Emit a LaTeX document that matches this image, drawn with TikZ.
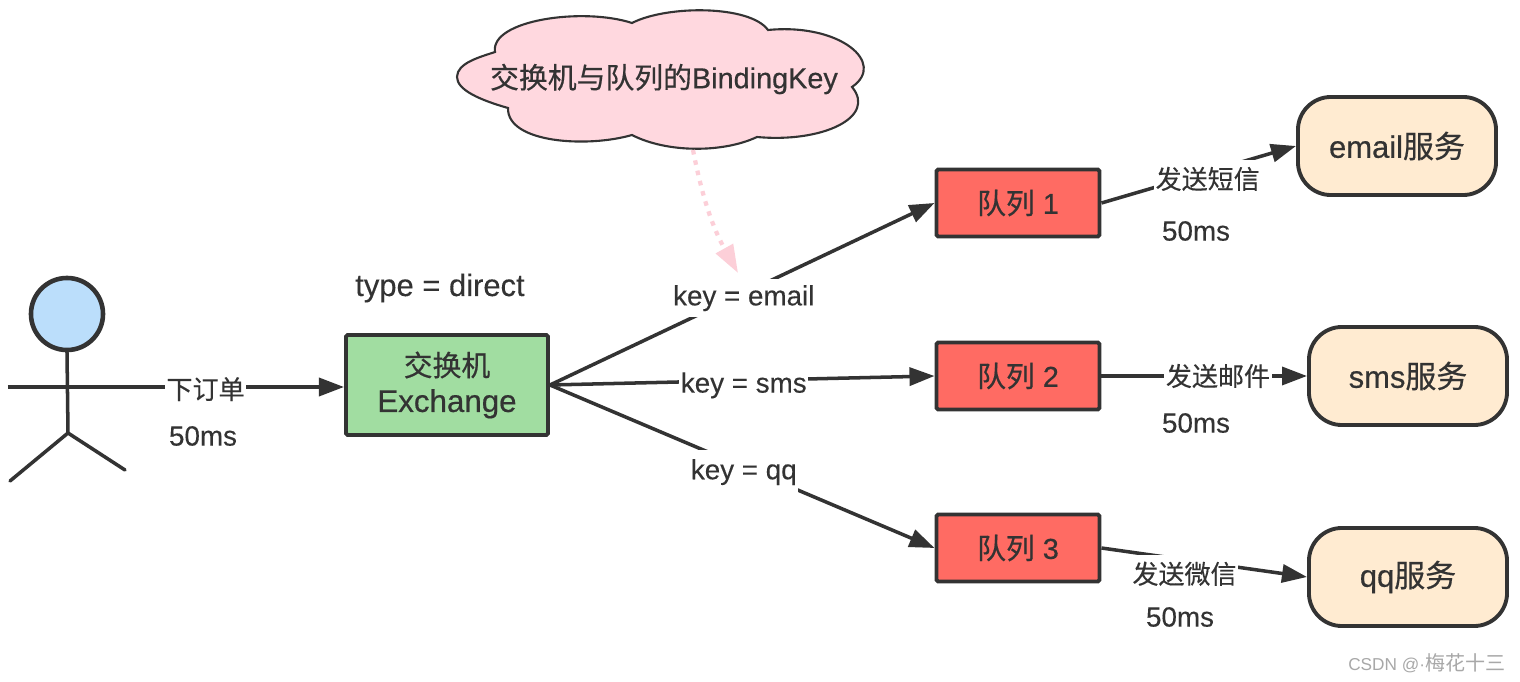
\documentclass[tikz,border=0pt]{standalone}
\usepackage{fontspec}
\setmainfont[FakeBold=0.25]{Liberation Sans}
\newfontfamily\cjk[FakeBold=0.25]{Noto Sans CJK SC}
\newfontfamily\thick[FakeBold=0.5]{Liberation Sans}
\newfontfamily\cjkthick[FakeBold=0.5]{Noto Sans CJK SC}
\newfontfamily\thin{Liberation Sans}
\newfontfamily\cjkthin{Noto Sans CJK SC}
\usepackage{xcolor}
\usetikzlibrary{arrows.meta,calc,positioning}
\definecolor{ink}{HTML}{333333}
\definecolor{headfill}{HTML}{BBDEFB}
\definecolor{exchangefill}{HTML}{A1DDA1}
\definecolor{queuefill}{HTML}{FF6B63}
\definecolor{servicefill}{HTML}{FFEBD1}
\definecolor{cloudfill}{HTML}{FFD8DF}
\definecolor{notearrow}{HTML}{FCCFD8}
\definecolor{markgrey}{HTML}{A8A8A8}
\tikzset{
  stick/.style={line width=1pt, draw=ink, line cap=round},
  edge/.style={line width=1pt, draw=ink, -{Triangle[length=2.5mm,width=1.8mm]}},
  head/.style={circle, draw=ink, line width=1.3pt, fill=headfill, minimum size=0.72cm, inner sep=0pt},
  exchange/.style={rounded corners=0.5pt, draw=ink, line width=1.1pt, fill=exchangefill,
    minimum width=2.02cm, minimum height=1cm, align=center, text=ink,
    font=\thick\fontsize{8.9}{10.2}\selectfont},
  queue/.style={rounded corners=0.5pt, draw=ink, line width=1.1pt, fill=queuefill,
    minimum width=1.63cm, minimum height=0.67cm, text=ink, font=\thick\fontsize{8.2}{10}\selectfont},
  service/.style={rounded corners=0.33cm, draw=ink, line width=1.1pt, fill=servicefill,
    minimum width=1.98cm, minimum height=0.98cm, text=ink, font=\thick\fontsize{8.8}{10}\selectfont},
  flow/.style={fill=white, text=ink, inner xsep=0.5pt, inner ysep=0pt, minimum height=0.38cm,
    font=\fontsize{7.9}{9}\selectfont},
  flowcjk/.style={flow, font=\cjk\fontsize{7.4}{9}\selectfont},
  note/.style={text=ink, inner sep=0pt, font=\fontsize{7.9}{9}\selectfont}
}

\begin{document}
\begin{tikzpicture}[x=0.01cm,y=-0.01cm]
\path[use as bounding box] (0,0) rectangle (1520,682);
\fill[white] (0,0) rectangle (1520,682);

\node[head] (person) at (67,314) {};
\coordinate (hip) at (68,433);
\coordinate (hand) at (8,387);
\coordinate (footL) at (10,481);
\coordinate (footR) at (125,470);
\draw[stick] (person.south) -- (hip);
\draw[stick] (footL) -- (hip) -- (footR);

\node[exchange] (exchange) at (447,385) {{\cjkthick\fontsize{8.2}{10.2}\selectfont 交换机}\\Exchange};
\node[queue] (queue1) at (1018,203) {{\cjkthick 队列} 1};
\node[queue] (queue2) at (1018,376) {{\cjkthick 队列} 2};
\node[queue] (queue3) at (1018,548) {{\cjkthick 队列} 3};
\node[service] (email) at (1397,146) {email{\cjkthick 服务}};
\node[service] (sms) at (1408,376) {sms{\cjkthick 服务}};
\node[service] (qq) at (1408,577) {qq{\cjkthick 服务}};

\draw[edge] (hand) -- node[flowcjk, pos=.588, yshift=-0.6pt] (order) {下订单} (hand -| exchange.west);
\draw[edge] (exchange.east) -- node[flow, pos=.504, yshift=-1.4pt] (keyemail) {key = email} (queue1.west);
\draw[edge] (exchange.east) -- node[flow, pos=.504, yshift=-1.4pt] (keysms) {key = sms} (queue2.west);
\draw[edge] (exchange.east) -- node[flow, pos=.504, yshift=-1.4pt, minimum height=0.44cm] (keyqq) {key = qq} (queue3.west);
\draw[edge] (queue1.east) -- node[flowcjk, pos=.546, yshift=-2pt] (sendmail) {发送短信} (email.west);
\draw[edge] (queue2.east) -- node[flowcjk, pos=.567] (sendsms) {发送邮件} (sms.west);
\draw[edge] (queue3.east) -- node[flowcjk, pos=.404, yshift=-4pt] (sendqq) {发送微信} (qq.west);

\node[note] (costorder) at (203,436) {50ms};
\node[note] (costmail) at (1196,231) {50ms};
\node[note] (costsms) at (1196,423) {50ms};
\node[note] (costqq) at (1180,617) {50ms};
\node[note, font=\fontsize{8.8}{10}\selectfont] (type) at (440,288) {type = direct};

\draw[draw=ink, line width=0.6pt, fill=cloudfill]
  (495,52) .. controls (490,20) and (583,7) .. (632,23)
  .. controls (667,5) and (750,5) .. (768,30)
  .. controls (840,23) and (887,63) .. (852,87)
  .. controls (877,117) and (823,143) .. (757,137)
  .. controls (723,153) and (667,153) .. (632,135)
  .. controls (587,148) and (507,143) .. (508,108)
  .. controls (480,100) and (457,90) .. (457,77)
  .. controls (457,63) and (480,57) .. cycle;
\node[note, font=\thick\fontsize{8.2}{10}\selectfont] (binding) at (664,79) {{\cjkthick 交换机与队列的}BindingKey};
\coordinate (cloudtail) at (693,150);
\coordinate (cloudtip) at (738,273);
\draw[draw=notearrow, line width=1.2pt, dash pattern=on 1.3pt off 1.7pt,
  -{Triangle[length=2.8mm,width=1.9mm,fill=notearrow]}] (cloudtail) to[bend right=9] (cloudtip);

\node[text=markgrey, inner sep=0pt, anchor=east, font=\thin\fontsize{4.9}{7}\selectfont] (mark) at (1506,663) {CSDN @·{\cjkthin\fontsize{5.7}{7}\selectfont 梅花十三}};
\end{tikzpicture}
\end{document}
